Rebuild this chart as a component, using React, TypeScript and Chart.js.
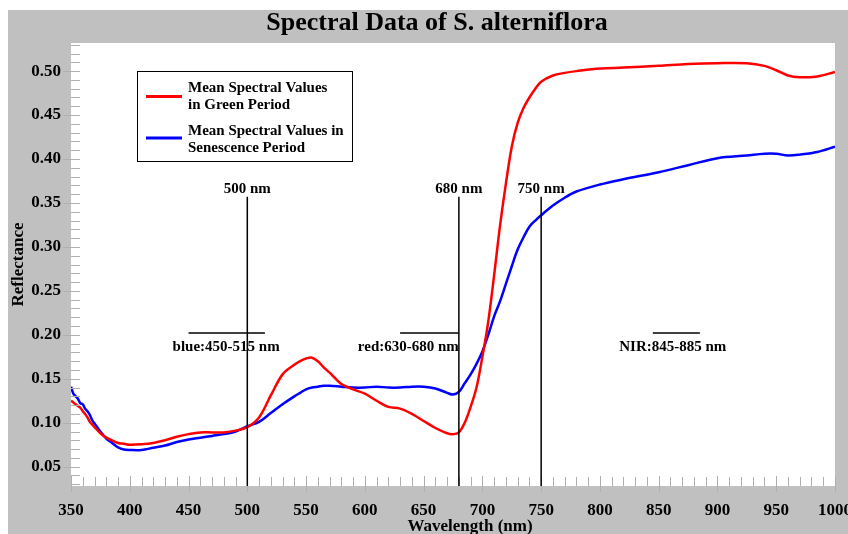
import React, { useEffect, useRef } from "react";
import { Chart, registerables } from "chart.js";

Chart.register(...registerables);

const wavelengths = [
  350, 352, 354, 356, 358, 360, 362, 364, 366, 368, 370, 375, 380, 385, 390, 395, 400, 410, 420, 430,
  440, 450, 460, 470, 480, 490, 500, 510, 520, 530, 540, 545, 550, 555, 560, 565, 570, 580, 590, 600,
  610, 620, 630, 640, 650, 660, 670, 675, 680, 685, 690, 695, 700, 705, 710, 715, 720, 725, 730, 735,
  740, 745, 750, 760, 770, 780, 800, 820, 850, 875, 900, 925, 940, 950, 960, 970, 985, 1000,
];

const greenPeriod = [
  0.125, 0.123, 0.121, 0.119, 0.117, 0.113, 0.11, 0.106, 0.101, 0.098, 0.095, 0.088, 0.083, 0.08, 0.077, 0.076, 0.075, 0.0755, 0.077, 0.08,
  0.084, 0.087, 0.089, 0.089, 0.089, 0.091, 0.095, 0.106, 0.131, 0.155, 0.166, 0.17, 0.173, 0.174, 0.17, 0.163, 0.157, 0.144, 0.138, 0.133,
  0.125, 0.118, 0.116, 0.11, 0.102, 0.094, 0.088, 0.087, 0.089, 0.1, 0.118, 0.14, 0.175, 0.215, 0.268, 0.324, 0.372, 0.414, 0.441, 0.458,
  0.47, 0.48, 0.488, 0.495, 0.498, 0.5, 0.503, 0.504, 0.506, 0.508, 0.509, 0.509, 0.506, 0.501, 0.495, 0.493, 0.494, 0.499,
];

const senescencePeriod = [
  0.141, 0.133, 0.13, 0.127, 0.122, 0.121, 0.116, 0.113, 0.109, 0.103, 0.099, 0.09, 0.082, 0.077, 0.072, 0.0695, 0.069, 0.069, 0.0715, 0.074,
  0.078, 0.081, 0.083, 0.085, 0.087, 0.09, 0.096, 0.101, 0.111, 0.121, 0.13, 0.134, 0.138, 0.14, 0.141, 0.142, 0.142, 0.141, 0.14, 0.14,
  0.141, 0.14, 0.14, 0.141, 0.141, 0.139, 0.134, 0.132, 0.135, 0.145, 0.155, 0.167, 0.181, 0.2, 0.221, 0.238, 0.258, 0.278, 0.297, 0.311,
  0.323, 0.33, 0.336, 0.347, 0.356, 0.363, 0.371, 0.377, 0.385, 0.393, 0.401, 0.404, 0.406, 0.406, 0.404, 0.405, 0.408, 0.414,
];

const seriesNames = ["Mean Spectral Values in Green Period", "Mean Spectral Values in Senescence Period"];
const legendLines = [
  ["Mean Spectral Values", "in Green Period"],
  ["Mean Spectral Values in", "Senescence Period"],
];
const seriesColors = ["#ff0000", "#0000ff"];

const xTicks = [350, 400, 450, 500, 550, 600, 650, 700, 750, 800, 850, 900, 950, 1000];
const yTicks = [0.05, 0.1, 0.15, 0.2, 0.25, 0.3, 0.35, 0.4, 0.45, 0.5];

const markerWavelengths = [500, 680, 750];
const markerLabels = ["500 nm", "680 nm", "750 nm"];
const markerTop = 0.357;
const markerLabelY = 0.366;

const bandLabels = ["blue:450-515 nm", "red:630-680 nm", "NIR:845-885 nm"];
const bandFrom = [450, 630, 845];
const bandTo = [515, 680, 885];
const bandLabelAt = [482, 637, 862];
const bandLevel = 0.202;
const bandLabelY = 0.186;

const titleText = "Spectral Data of S. alterniflora";
const xTitle = "Wavelength (nm)";
const yTitle = "Reflectance";

const FONT = '"Liberation Serif", "Times New Roman", serif';

const decor = {
  id: "decor",
  beforeDraw(chart: any) {
    const { ctx, chartArea: a, width, height } = chart;
    ctx.save();
    ctx.fillStyle = "#ffffff";
    ctx.fillRect(0, 0, width, height);
    ctx.fillStyle = "#c0c0c0";
    ctx.fillRect(8, 10, width - 8, height - 10);
    ctx.fillStyle = "#ffffff";
    ctx.fillRect(a.left, a.top, a.right - a.left, a.bottom - a.top);
    ctx.restore();
  },
  afterDatasetsDraw(chart: any) {
    const { ctx, chartArea: a } = chart;
    const xs = chart.scales.x;
    const ys = chart.scales.y;
    ctx.save();

    // ticks
    ctx.strokeStyle = "#b0b0b0";
    ctx.lineWidth = 1;
    for (let v = 350; v <= 1000; v += 10) {
      const px = Math.round(xs.getPixelForValue(v)) + 0.5;
      const major = v % 50 === 0;
      ctx.beginPath();
      ctx.moveTo(px, a.bottom - (major ? 10 : 9));
      ctx.lineTo(px, a.bottom + (major ? 6 : 0));
      ctx.stroke();
    }
    for (let i = 3; i <= 53; i++) {
      const v = i / 100;
      if (v < ys.min || v > ys.max) continue;
      const py = Math.round(ys.getPixelForValue(v)) + 0.5;
      const major = i % 5 === 0;
      ctx.beginPath();
      ctx.moveTo(a.left - (major ? 8 : 0), py);
      ctx.lineTo(a.left + 9, py);
      ctx.stroke();
    }

    // marker lines
    ctx.strokeStyle = "#000000";
    ctx.lineWidth = 1.5;
    ctx.fillStyle = "#000000";
    ctx.font = `bold 15px ${FONT}`;
    ctx.textAlign = "center";
    ctx.textBaseline = "middle";
    markerWavelengths.forEach((w, i) => {
      const px = xs.getPixelForValue(w);
      ctx.beginPath();
      ctx.moveTo(px, ys.getPixelForValue(markerTop));
      ctx.lineTo(px, a.bottom);
      ctx.stroke();
      ctx.fillText(markerLabels[i], px, ys.getPixelForValue(markerLabelY));
    });

    // bands
    bandLabels.forEach((lab, i) => {
      const py = ys.getPixelForValue(bandLevel);
      ctx.beginPath();
      ctx.moveTo(xs.getPixelForValue(bandFrom[i]), py);
      ctx.lineTo(xs.getPixelForValue(bandTo[i]), py);
      ctx.stroke();
      ctx.fillText(lab, xs.getPixelForValue(bandLabelAt[i]), ys.getPixelForValue(bandLabelY));
    });

    // legend box
    const bx = 137.5, by = 71.5, bw = 215, bh = 90;
    ctx.fillStyle = "#ffffff";
    ctx.fillRect(bx, by, bw, bh);
    ctx.strokeStyle = "#000000";
    ctx.lineWidth = 1;
    ctx.strokeRect(bx, by, bw, bh);
    ctx.textAlign = "left";
    ctx.font = `bold 15px ${FONT}`;
    const rows = [[88, 105, 96.5], [131, 148, 138]];
    legendLines.forEach((lines, i) => {
      ctx.strokeStyle = seriesColors[i];
      ctx.lineWidth = 3;
      ctx.beginPath();
      ctx.moveTo(146, rows[i][2]);
      ctx.lineTo(182, rows[i][2]);
      ctx.stroke();
      ctx.fillStyle = "#000000";
      ctx.fillText(lines[0], 188, rows[i][0]);
      ctx.fillText(lines[1], 188, rows[i][1]);
    });

    // titles
    ctx.fillStyle = "#000000";
    ctx.textAlign = "center";
    ctx.font = `bold 26px ${FONT}`;
    ctx.fillText(titleText, 437, 23);
    ctx.font = `bold 17px ${FONT}`;
    ctx.fillText(xTitle, 470, 527);
    ctx.save();
    ctx.translate(19, (a.top + a.bottom) / 2);
    ctx.rotate(-Math.PI / 2);
    ctx.fillText(yTitle, 0, 0);
    ctx.restore();

    ctx.restore();
  },
};

export default function App() {
  const ref = useRef<HTMLCanvasElement | null>(null);
  useEffect(() => {
    document.body.style.margin = "0";
    const canvas = ref.current;
    if (!canvas) return;
    const tickFont = { family: FONT, size: 17, weight: "bold" as const };
    const chart = new Chart(canvas, {
      type: "line",
      data: {
        datasets: [greenPeriod, senescencePeriod].map((vals, i) => ({
          label: seriesNames[i],
          data: wavelengths.map((w, j) => ({ x: w, y: vals[j] })),
          borderColor: seriesColors[i],
          backgroundColor: seriesColors[i],
          borderWidth: 2.5,
          pointRadius: 0,
          tension: 0.35,
          fill: false,
        })),
      },
      options: {
        animation: false,
        responsive: false,
        maintainAspectRatio: false,
        layout: { padding: { left: 8, right: 13, top: 43, bottom: 0 } },
        plugins: {
          legend: { display: false },
          title: { display: false },
          tooltip: { enabled: false },
        },
        scales: {
          x: {
            type: "linear",
            min: 350,
            max: 1000,
            afterBuildTicks: (s: any) => {
              s.ticks = xTicks.map((v) => ({ value: v }));
            },
            afterFit: (s: any) => {
              s.height = 48;
              s.paddingLeft = 0;
              s.paddingRight = 0;
            },
            grid: { display: false, drawTicks: false },
            border: { display: false },
            ticks: {
              padding: 14,
              color: "#000000",
              font: tickFont,
              maxRotation: 0,
              autoSkip: false,
              callback: (v: any) => String(v),
            },
          },
          y: {
            type: "linear",
            min: 0.028,
            max: 0.532,
            afterBuildTicks: (s: any) => {
              s.ticks = yTicks.map((v) => ({ value: v }));
            },
            afterFit: (s: any) => {
              s.width = 63;
              s.paddingTop = 0;
              s.paddingBottom = 0;
            },
            grid: { display: false, drawTicks: false },
            border: { display: false },
            ticks: {
              padding: 10,
              color: "#000000",
              font: tickFont,
              autoSkip: false,
              callback: (v: any) => Number(v).toFixed(2),
            },
          },
        },
      },
      plugins: [decor],
    });
    return () => chart.destroy();
  }, []);
  return <canvas ref={ref} width={848} height={534} style={{ display: "block", width: 848, height: 534 }} />;
}
